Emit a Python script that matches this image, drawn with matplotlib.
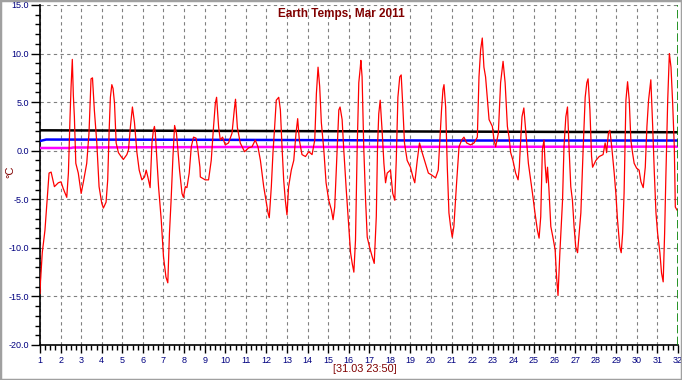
import numpy as np
import matplotlib.pyplot as plt
from matplotlib.patches import Rectangle
from matplotlib.ticker import MultipleLocator, FormatStrFormatter

plt.rcParams["font.family"] = ["Liberation Sans", "DejaVu Sans"]

# earth temperature (red): day of month, degC
red_day = [
    1.00, 1.02, 1.11, 1.24, 1.37, 1.44, 1.54, 1.70, 1.89, 2.02, 2.13, 2.30, 2.38,
    2.46, 2.51, 2.57, 2.62, 2.67, 2.74, 2.86, 3.00, 3.11, 3.27, 3.38, 3.48, 3.55,
    3.64, 3.76, 3.87, 4.00, 4.08, 4.21, 4.29, 4.36, 4.42, 4.49, 4.55, 4.62, 4.70,
    4.81, 4.94, 5.05, 5.22, 5.30, 5.39, 5.49, 5.59, 5.71, 5.82, 5.95, 6.08, 6.16,
    6.24, 6.35, 6.44, 6.51, 6.56, 6.60, 6.76, 6.89, 7.00, 7.12, 7.21, 7.29, 7.37,
    7.46, 7.54, 7.63, 7.70, 7.78, 7.90, 7.97, 8.06, 8.14, 8.25, 8.35, 8.46, 8.58,
    8.67, 8.77, 8.79, 9.03, 9.19, 9.32, 9.43, 9.52, 9.58, 9.68, 9.76, 9.87, 10.00,
    10.16, 10.33, 10.44, 10.50, 10.59, 10.73, 10.94, 11.14, 11.30, 11.46, 11.59,
    11.71, 11.87, 11.98, 12.08, 12.14, 12.24, 12.32, 12.40, 12.48, 12.60, 12.68,
    12.76, 12.84, 12.92, 13.00, 13.08, 13.21, 13.33, 13.44, 13.52, 13.60, 13.73,
    13.90, 14.06, 14.22, 14.35, 14.43, 14.51, 14.59, 14.67, 14.79, 14.90, 15.03,
    15.16, 15.24, 15.32, 15.44, 15.52, 15.58, 15.68, 15.76, 15.88, 15.97, 16.09,
    16.17, 16.25, 16.33, 16.41, 16.49, 16.56, 16.59, 16.65, 16.73, 16.82, 16.90,
    17.01, 17.14, 17.24, 17.34, 17.40, 17.46, 17.53, 17.63, 17.71, 17.79, 17.87,
    18.03, 18.14, 18.24, 18.31, 18.39, 18.48, 18.55, 18.63, 18.71, 18.84, 19.00,
    19.12, 19.21, 19.33, 19.44, 19.57, 19.73, 19.87, 20.03, 20.22, 20.35, 20.42,
    20.51, 20.58, 20.63, 20.71, 20.79, 20.87, 20.95, 21.03, 21.11, 21.23, 21.36,
    21.49, 21.60, 21.73, 21.92, 22.09, 22.25, 22.33, 22.41, 22.49, 22.57, 22.65,
    22.74, 22.82, 22.98, 23.06, 23.14, 23.27, 23.38, 23.50, 23.60, 23.71, 23.79,
    23.87, 23.98, 24.11, 24.23, 24.29, 24.33, 24.42, 24.51, 24.61, 24.73, 24.84,
    24.93, 25.05, 25.17, 25.25, 25.33, 25.41, 25.49, 25.54, 25.61, 25.66, 25.73,
    25.82, 25.93, 26.03, 26.10, 26.17, 26.26, 26.39, 26.46, 26.55, 26.63, 26.71,
    26.79, 26.87, 26.95, 27.03, 27.12, 27.20, 27.28, 27.39, 27.49, 27.57, 27.63,
    27.72, 27.80, 27.85, 28.01, 28.17, 28.36, 28.46, 28.53, 28.62, 28.69, 28.78,
    28.90, 28.98, 29.06, 29.17, 29.24, 29.31, 29.38, 29.47, 29.55, 29.63, 29.71,
    29.79, 29.87, 29.99, 30.11, 30.20, 30.31, 30.41, 30.49, 30.57, 30.68, 30.77,
    30.85, 30.93, 31.01, 31.12, 31.20, 31.28, 31.35, 31.41, 31.50, 31.58, 31.66,
    31.74, 31.82, 31.87, 31.95,
]
red_val = [
    -14.7, -13.6, -10.5, -8.2, -4.4, -2.3, -2.2, -3.7, -3.3, -3.2, -3.9, -4.8, -2.3,
    3.5, 6.6, 9.4, 5.7, 3.5, -1.3, -2.3, -4.4, -3.2, -1.3, 1.8, 7.4, 7.5,
    4.2, 0.8, -3.7, -5.4, -5.9, -5.3, -3.0, 2.1, 5.5, 6.8, 6.4, 4.9, 0.8,
    -0.2, -0.6, -0.9, -0.4, 0.1, 2.4, 4.5, 2.9, -0.2, -2.0, -3.0, -2.7, -2.0,
    -2.7, -3.8, 0.8, 2.1, 2.5, 1.9, -3.7, -7.1, -10.9, -13.0, -13.6, -8.5, -5.1,
    -0.6, 2.6, 1.8, 0.1, -2.0, -4.4, -4.8, -3.7, -3.8, -2.3, 0.4, 1.4, 1.3,
    0.1, -1.7, -2.7, -3.0, -3.0, -1.0, 2.4, 4.9, 5.5, 2.4, 1.1, 1.4, 0.6,
    0.8, 1.8, 4.2, 5.3, 2.4, 0.8, -0.1, 0.3, 0.4, 1.1, 0.4,
    -1.0, -3.7, -5.1, -6.4, -6.9, -3.7, -0.2, 2.4, 5.2, 5.5, 4.2,
    0.4, -3.0, -5.1, -6.6, -3.7, -2.0, -1.0, 1.8, 3.3, 1.1, -0.4,
    -0.6, -0.1, -0.4, 1.1, 5.9, 8.6, 6.6, 2.9, 0.1, -3.3, -5.1,
    -6.1, -7.1, -5.8, 0.1, 4.2, 4.5, 3.2, 0.1, -4.0, -6.8, -10.5,
    -11.6, -12.5, -9.2, 0.1, 7.0, 8.5, 9.3, 7.6, 0.4, -5.1, -8.9,
    -9.9, -10.9, -11.6, -6.8, 0.4, 3.8, 5.2, 1.8, -1.3, -3.3, -2.3,
    -2.0, -4.4, -5.1, -1.0, 5.5, 7.6, 7.8, 4.5, 0.8, -1.0, -1.7,
    -2.7, -3.3, -1.0, 0.8, -0.2, -1.3, -2.3, -2.5, -2.8, -2.0, 0.8,
    4.2, 6.3, 6.8, 4.5, -1.7, -6.4, -7.8, -8.9, -7.8, -3.7, 0.4,
    1.1, 1.4, 0.8, 0.6, 0.8, 1.4, 7.6, 10.4, 11.6, 8.6, 7.6,
    5.2, 3.2, 2.5, 1.1, 0.4, 1.8, 7.0, 9.2, 7.0, 2.5, 1.4,
    -0.2, -1.0, -2.3, -3.0, -1.7, 0.1, 3.5, 4.4, 1.8, -1.3, -3.0,
    -4.4, -6.4, -8.2, -9.0, -6.8, 0.1, 1.1, -1.3, -3.3, -1.7, -4.0,
    -7.8, -9.0, -10.2, -13.0, -14.9, -10.5, -5.1, 0.4, 3.5, 4.5, 0.1,
    -3.7, -5.1, -7.8, -9.9, -10.5, -8.5, -6.4, 0.1, 5.5, 7.0, 7.4,
    4.2, -0.6, -1.7, -1.0, -0.6, -0.4, 0.8, -0.2, 1.8, 2.1, 0.4,
    -2.3, -4.4, -7.1, -9.9, -10.5, -8.5, -4.4, 5.2, 7.1, 5.2, 1.1,
    -0.2, -1.3, -1.8, -2.0, -3.2, -3.8, -1.7, 2.5, 5.2, 7.3, 2.5,
    -2.3, -6.4, -8.5, -10.5, -12.6, -13.5, -8.5, -2.7, 5.2, 10.0, 8.6,
    4.9, 0.4, -5.8, -6.1,
]

# the three slow, flat series
black_day = [1, 8, 16, 24, 32]
black_val = [2.1, 2.05, 2.0, 1.95, 1.9]
blue_day = [1, 1.3, 10, 20, 32]
blue_val = [1.0, 1.15, 1.12, 1.05, 1.05]
pink_day = [1, 2.5, 2.6, 10, 20, 32]
pink_val = [0.28, 0.28, 0.33, 0.38, 0.4, 0.42]

x_ticks = list(range(1, 33))
stamp = "[31.03 23:50]"
title = "Earth Temps, Mar 2011"

navy = "#000080"
dred = "#800000"

fig = plt.figure(figsize=(6.82, 3.80), dpi=100)
ax = fig.add_axes([40 / 682, 35 / 380, 638 / 682, 340 / 380])

ax.plot(black_day, black_val, color="black", lw=1.8, zorder=3)
ax.plot(blue_day, blue_val, color="#0000ff", lw=1.8, zorder=3)
ax.plot(pink_day, pink_val, color="#ff00ff", lw=1.8, zorder=3)
ax.plot(red_day, red_val, color="#ff0000", lw=0.9, zorder=4)
ax.axvline(32, color="#008000", lw=1.2, ls=(0, (5, 2)), zorder=5)

ax.set_xlim(1, 32)
ax.set_ylim(-20, 15)
ax.set_xticks(x_ticks)
ax.xaxis.set_minor_locator(MultipleLocator(0.25))
ax.yaxis.set_major_locator(MultipleLocator(5))
ax.yaxis.set_minor_locator(MultipleLocator(1))
ax.yaxis.set_major_formatter(FormatStrFormatter("%.1f"))

ax.grid(True, which="major", color="#808080", lw=0.8, ls=(0, (3, 3)))
# no dashed line along the top edge
ax.yaxis.get_gridlines()[-1].set_visible(False)
for s in ["top", "right"]:
    ax.spines[s].set_visible(False)
for s in ["left", "bottom"]:
    ax.spines[s].set_linewidth(1.2)

ax.tick_params(which="major", direction="out", length=6.5, width=1,
               labelsize=6.5, labelcolor=navy, pad=1.5)
ax.tick_params(which="minor", direction="out", length=3.5, width=1)
ax.tick_params(axis="x", which="major", length=6, pad=2)
ax.tick_params(axis="x", which="minor", length=3.5)

fig.text(10 / 682, 1 - 172 / 380, "°C", color=dred, fontsize=8,
         rotation=90, ha="center", va="center")
fig.text(0.5, 1 - 14 / 380, title, color=dred, fontsize=8.5,
         fontweight="bold", ha="center", va="center")
fig.text(365 / 682, 1 - 369 / 380, stamp, color=dred, fontsize=7.8,
         ha="center", va="center")

fig.patches.append(Rectangle((0, 0), 1, 1, transform=fig.transFigure,
                             fill=False, edgecolor="#a0a0a0", lw=2.5))

fig.savefig("out.png", dpi=100)
